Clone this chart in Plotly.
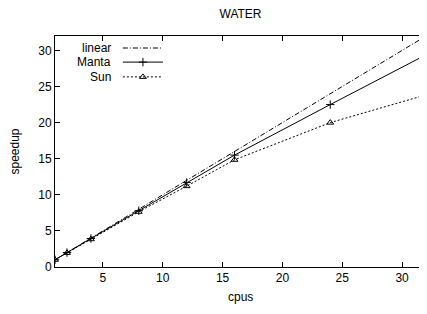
import plotly.graph_objects as go

cpus = [1, 2, 4, 8, 12, 16, 24, 32]
linear = [1, 2, 4, 8, 12, 16, 24, 32]
manta = [1, 2, 3.95, 7.8, 11.7, 15.5, 22.5, 29.4]
sun = [1, 1.95, 3.85, 7.65, 11.2, 14.85, 20.0, 23.85]
xticks = [5, 10, 15, 20, 25, 30]
yticks = [0, 5, 10, 15, 20, 25, 30]

FONT = "Liberation Sans, Arial, sans-serif"
fig = go.Figure()

DASHDOT = "5px,2px,1px,2px"
DOT = "2px,2px"
fig.add_trace(go.Scatter(x=cpus, y=linear, mode="lines", name="linear",
                         line=dict(color="black", width=1, dash=DASHDOT)))
fig.add_trace(go.Scatter(x=cpus, y=manta, mode="lines+markers", name="Manta",
                         line=dict(color="black", width=1),
                         marker=dict(symbol="cross-thin-open", size=6, color="black",
                                     line=dict(color="black", width=1))))
fig.add_trace(go.Scatter(x=cpus, y=sun, mode="lines+markers", name="Sun",
                         line=dict(color="black", width=1, dash=DOT),
                         marker=dict(symbol="triangle-up-open", size=6, color="black",
                                     line=dict(color="black", width=1))))

# legend samples (gnuplot-style: text then sample) on a hidden overlay axis
leg_names = ["linear", "Manta", "Sun"]
leg_y = [0.948, 0.887, 0.823]
leg_x = [0.183, 0.237, 0.291]
styles = [
    (DASHDOT, None),
    ("solid", "cross-thin-open"),
    (DOT, "triangle-up-open"),
]
for name, yy, (dash, sym) in zip(leg_names, leg_y, styles):
    fig.add_trace(go.Scatter(x=leg_x, y=[yy] * 3, xaxis="x2", yaxis="y2",
                             showlegend=False, hoverinfo="skip", mode="lines",
                             line=dict(color="black", width=1, dash=dash)))
    if sym:
        fig.add_trace(go.Scatter(x=[leg_x[1]], y=[yy], xaxis="x2", yaxis="y2",
                                 showlegend=False, hoverinfo="skip", mode="markers",
                                 marker=dict(symbol=sym, size=6, color="black",
                                             line=dict(color="black", width=1))))
    fig.add_annotation(x=0.156, y=yy, xref="paper", yref="paper", text=name, showarrow=False,
                       xanchor="right", yanchor="middle", font=dict(family=FONT, size=12, color="black"))

axis_common = dict(showgrid=False, zeroline=False, showline=True, linecolor="black", linewidth=1,
                   mirror="ticks", ticks="inside", ticklen=5, tickcolor="black", automargin=False,
                   tickfont=dict(family=FONT, size=12, color="black"))

fig.add_annotation(x=0.5, y=-30 / 231, xref="paper", yref="paper", text="cpus", showarrow=False,
                   xanchor="center", yanchor="middle", font=dict(family=FONT, size=12, color="black"))
fig.add_annotation(x=-41 / 371, y=0.5, xref="paper", yref="paper", text="speedup", showarrow=False,
                   textangle=-90, xanchor="center", yanchor="middle",
                   font=dict(family=FONT, size=12, color="black"))

# page body has an 8px default margin: figure sized/offset to compensate
W, H = 419, 306
fig.update_layout(
    width=W, height=H,
    margin=dict(l=47, r=1, t=28, b=47, autoexpand=False),
    paper_bgcolor="white", plot_bgcolor="white",
    showlegend=False,
    title=dict(text="WATER", x=(47 + 418) / 2 / W, xanchor="center", y=1 - 6 / H, yanchor="middle",
               font=dict(family=FONT, size=12, color="black")),
    xaxis=dict(range=[1, 32], tickvals=xticks, **axis_common),
    yaxis=dict(range=[0, 32], tickvals=yticks, **axis_common),
    xaxis2=dict(range=[0, 1], overlaying="x", visible=False, fixedrange=True),
    yaxis2=dict(range=[0, 1], overlaying="y", visible=False, fixedrange=True),
)

fig.write_html("out.html")
